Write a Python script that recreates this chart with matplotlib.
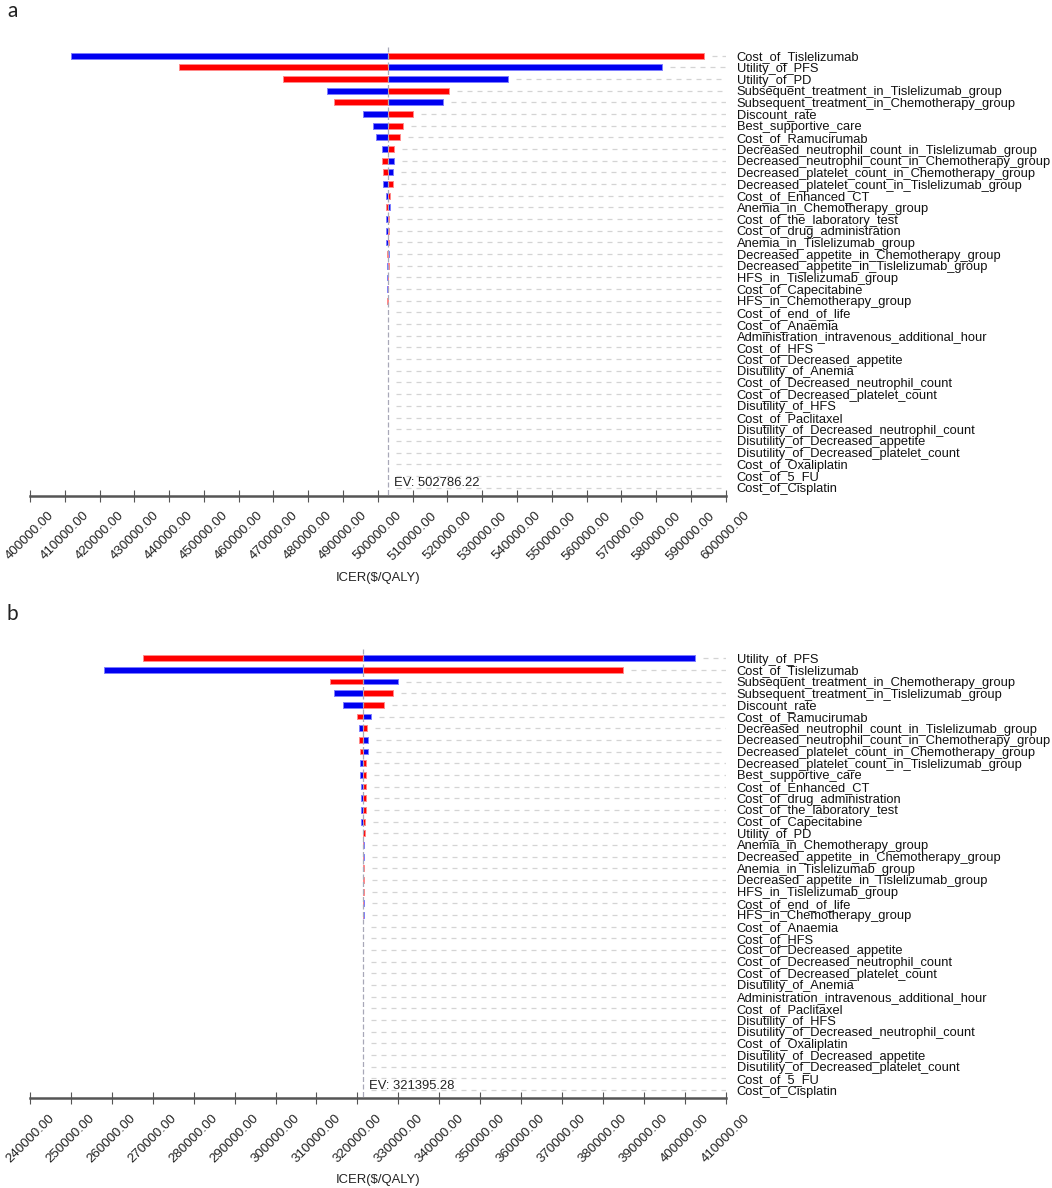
import matplotlib
matplotlib.use("Agg")
import matplotlib.pyplot as plt
import matplotlib.transforms as mtrans
import numpy as np

# ---------------- data ----------------
params_a = [
    "Cost_of_Tislelizumab", "Utility_of_PFS", "Utility_of_PD",
    "Subsequent_treatment_in_Tislelizumab_group", "Subsequent_treatment_in_Chemotherapy_group",
    "Discount_rate", "Best_supportive_care", "Cost_of_Ramucirumab",
    "Decreased_neutrophil_count_in_Tislelizumab_group", "Decreased_neutrophil_count_in_Chemotherapy_group",
    "Decreased_platelet_count_in_Chemotherapy_group", "Decreased_platelet_count_in_Tislelizumab_group",
    "Cost_of_Enhanced_CT", "Anemia_in_Chemotherapy_group", "Cost_of_the_laboratory_test",
    "Cost_of_drug_administration", "Anemia_in_Tislelizumab_group",
    "Decreased_appetite_in_Chemotherapy_group", "Decreased_appetite_in_Tislelizumab_group",
    "HFS_in_Tislelizumab_group", "Cost_of_Capecitabine", "HFS_in_Chemotherapy_group",
    "Cost_of_end_of_life", "Cost_of_Anaemia", "Administration_intravenous_additional_hour",
    "Cost_of_HFS", "Cost_of_Decreased_appetite", "Disutility_of_Anemia",
    "Cost_of_Decreased_neutrophil_count", "Cost_of_Decreased_platelet_count", "Disutility_of_HFS",
    "Cost_of_Paclitaxel", "Disutility_of_Decreased_neutrophil_count", "Disutility_of_Decreased_appetite",
    "Disutility_of_Decreased_platelet_count", "Cost_of_Oxaliplatin", "Cost_of_5_FU", "Cost_of_Cisplatin",
]
ev_a = 502786.22
# ICER at low value of parameter (blue) and at high value (red)
low_a = [411900, 581800, 537300, 485350, 518700, 495800, 498500, 499600,
         501100, 504700, 504350, 501350, 502300, 503400, 502350, 502400,
         502450, 503150, 502720, 502740, 502750, 502980] + [ev_a] * 16
high_a = [593700, 442900, 472750, 520350, 487400, 510000, 507300, 506400,
          504700, 501100, 501350, 504450, 503500, 502350, 503300, 503250,
          503150, 502700, 503100, 503050, 503000, 502760] + [ev_a] * 16
ticks_a = list(range(400000, 610000, 10000))

params_b = [
    "Utility_of_PFS", "Cost_of_Tislelizumab", "Subsequent_treatment_in_Chemotherapy_group",
    "Subsequent_treatment_in_Tislelizumab_group", "Discount_rate", "Cost_of_Ramucirumab",
    "Decreased_neutrophil_count_in_Tislelizumab_group", "Decreased_neutrophil_count_in_Chemotherapy_group",
    "Decreased_platelet_count_in_Chemotherapy_group", "Decreased_platelet_count_in_Tislelizumab_group",
    "Best_supportive_care", "Cost_of_Enhanced_CT", "Cost_of_drug_administration",
    "Cost_of_the_laboratory_test", "Cost_of_Capecitabine", "Utility_of_PD",
    "Anemia_in_Chemotherapy_group", "Decreased_appetite_in_Chemotherapy_group",
    "Anemia_in_Tislelizumab_group", "Decreased_appetite_in_Tislelizumab_group",
    "HFS_in_Tislelizumab_group", "Cost_of_end_of_life", "HFS_in_Chemotherapy_group",
    "Cost_of_Anaemia", "Cost_of_HFS", "Cost_of_Decreased_appetite",
    "Cost_of_Decreased_neutrophil_count", "Cost_of_Decreased_platelet_count", "Disutility_of_Anemia",
    "Administration_intravenous_additional_hour", "Cost_of_Paclitaxel", "Disutility_of_HFS",
    "Disutility_of_Decreased_neutrophil_count", "Cost_of_Oxaliplatin", "Disutility_of_Decreased_appetite",
    "Disutility_of_Decreased_platelet_count", "Cost_of_5_FU", "Cost_of_Cisplatin",
]
ev_b = 321395.28
low_b = [402440, 258050, 329830, 314250, 316570, 323250, 320480, 322560,
         322560, 320700, 320700, 320830, 320830, 320830, 321000, ev_b,
         321600, 321580, 321280, 321300, 321300, 321540, 321520] + [ev_b] * 15
high_b = [267730, 384880, 313320, 328680, 326480, 319900, 322440, 320480,
          320700, 322220, 322220, 322220, 322100, 322100, 321980, 321980,
          321250, 321270, 321600, 321580, 321560, 321320, 321330] + [ev_b] * 15
ticks_b = list(range(240000, 420000, 10000))

# ---------------- style ----------------
BLUE, BLUE_E = "#0000f0", "#7d7dff"
RED, RED_E = "#ff0000", "#ff8a8a"
W, H = 1052, 1188
FONT = ["Liberation Sans", "DejaVu Sans"]
plt.rcParams["font.family"] = FONT

fig = plt.figure(figsize=(W / 100, H / 100), dpi=100)

AX_L, AX_R = 30.0, 725.7


def panel(top_px, bottom_px, letter, names, low, high, ev, ticks):
    h_px = bottom_px - top_px
    ax = fig.add_axes([AX_L / W, 1 - bottom_px / H, (AX_R - AX_L) / W, h_px / H])
    n = len(names)
    y = np.arange(n)
    low = np.asarray(low, float)
    high = np.asarray(high, float)
    wl = low - ev
    wh = high - ev
    ax.barh(y, wl, left=ev, height=0.5, color=BLUE, edgecolor=BLUE_E,
            linewidth=np.where(np.abs(wl) < 1, 0, 0.7), zorder=3)
    ax.barh(y, wh, left=ev, height=0.5, color=RED, edgecolor=RED_E,
            linewidth=np.where(np.abs(wh) < 1, 0, 0.7), zorder=3)
    xmin, xmax = ticks[0], ticks[-1]
    gap = (xmax - xmin) * 8 / (AX_R - AX_L)
    start = np.maximum(np.maximum(low, high), ev) + gap
    ax.hlines(y, start, xmax, colors="#d4d4d4", linestyles=(0, (4, 4)), linewidth=0.9, zorder=1)
    ytop, ybot = -0.77, n - 1 + 0.7
    ax.vlines(ev, ytop, ybot, colors="#a8a8b8", linestyles=(0, (4, 2)), linewidth=0.9, zorder=4)
    ax.set_xlim(xmin, xmax)
    ax.set_ylim(ybot, ytop)
    for s in ("top", "left", "right"):
        ax.spines[s].set_visible(False)
    ax.spines["bottom"].set_color("#555555")
    ax.spines["bottom"].set_linewidth(1.8)
    ax.set_xticks(ticks)
    ax.set_xticklabels([f"{t:.2f}" for t in ticks], rotation=45, ha="center", va="top")
    ax.tick_params(axis="x", direction="inout", length=8, width=0.8, color="#555555",
                   pad=6, labelsize=9.6, labelcolor="#222222")
    ax.yaxis.tick_right()
    ax.set_yticks(y)
    ax.set_yticklabels(names)
    ax.tick_params(axis="y", length=0, pad=8, labelsize=9.3, labelcolor="#111111")
    ax.annotate(f"EV: {ev:.2f}", xy=(ev, 0), xycoords=mtrans.blended_transform_factory(ax.transData, ax.transAxes),
                xytext=(4.5, 4.5), textcoords="offset points", ha="left", va="bottom",
                fontsize=9.4, color="#222222")
    ax.text(0.5, -82.0 / h_px, "ICER($/QALY)", transform=ax.transAxes,
            ha="center", va="center", fontsize=9.4, color="#222222")
    fig.text(7 / W, 1 - (top_px - 35.7) / H, letter, fontsize=15, ha="left", va="center",
             family=["Lato", "DejaVu Sans"], color="#222222")
    return ax


panel(46.7, 495.7, "a", params_a, low_a, high_a, ev_a, ticks_a)
panel(649.2, 1098.2, "b", params_b, low_b, high_b, ev_b, ticks_b)

fig.savefig("out.png", dpi=100, facecolor="white")
